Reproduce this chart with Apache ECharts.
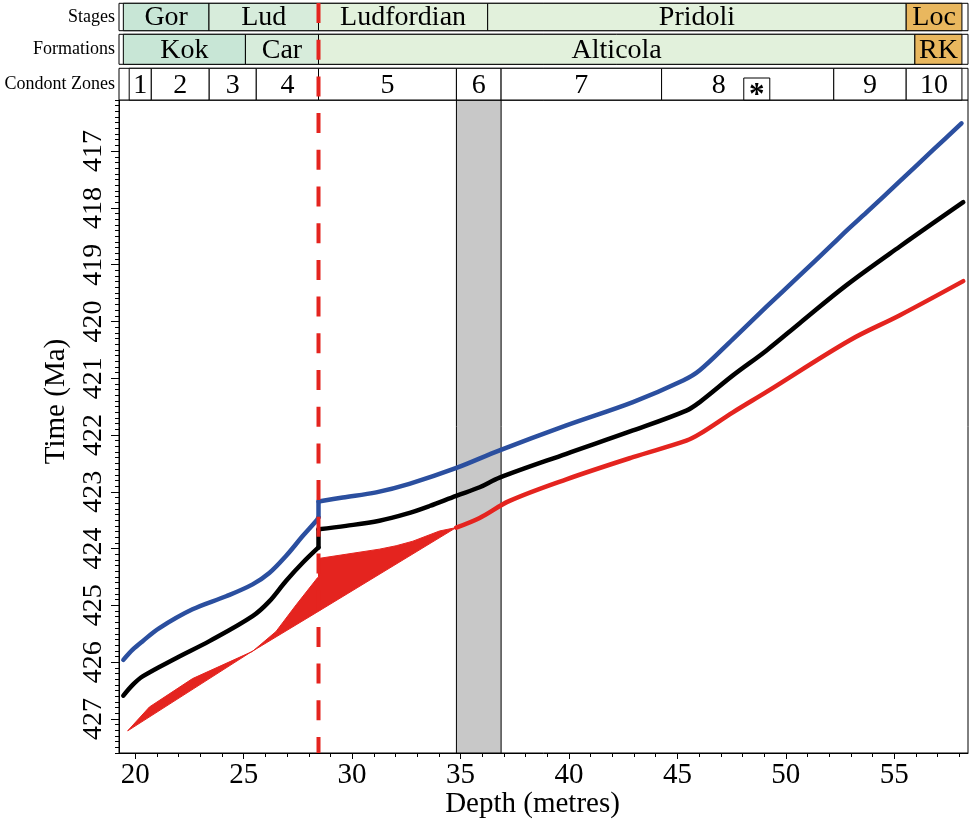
<!DOCTYPE html>
<html><head><meta charset="utf-8">
<script src="https://cdn.jsdelivr.net/npm/echarts@6/dist/echarts.min.js"></script>
<style>html,body{margin:0;padding:0;background:#fff}#chart{width:969px;height:820px}</style>
</head><body><div id="chart"></div>
<script>
// ---------------- data ----------------
const depthRange = [19.25, 58.4];
const timeRange = [416.1, 427.6];
const xMajorTicks = [20, 25, 30, 35, 40, 45, 50, 55];
const xMinorTicks = [20,21,22,23,24,25,26,27,28,29,30,31,32,33,34,35,36,37,38,39,40,41,42,43,44,45,46,47,48,49,50,51,52,53,54,55,56,57,58];
const yMajorTicks = [417, 418, 419, 420, 421, 422, 423, 424, 425, 426, 427];

const stages = [[19.45, 23.4, 'Gor'], [23.4, 28.45, 'Lud'], [28.45, 36.25, 'Ludfordian'], [36.25, 55.55, 'Pridoli'], [55.55, 58.12, 'Loc']];
const formations = [[19.45, 25.08, 'Kok'], [25.08, 28.45, 'Car'], [28.45, 55.95, 'Alticola'], [55.95, 58.12, 'RK']];
const zones = [[19.72, 20.74, '1'], [20.74, 23.41, '2'], [23.41, 25.58, '3'], [25.58, 28.45, '4'], [28.45, 34.81, '5'], [34.81, 36.87, '6'], [36.87, 44.27, '7'], [44.27, 52.21, '8'], [52.21, 55.55, '9'], [55.55, 58.12, '10']];
const markerBox = [48.06, 49.26, '*'];
const boundaryDepth = 28.45;
const grayBand = [34.81, 36.87];

const upperCurve = [[19.45,425.96],[19.88,425.78],[20.34,425.63],[21.11,425.40],[22.64,425.07],[24.19,424.84],[25.41,424.63],[26.18,424.43],[26.95,424.13],[27.72,423.78],[28.37,423.50],[28.45,423.45],[28.45,423.17],[29.57,423.10],[31.11,423.01],[32.64,422.86],[34.81,422.58],[36.80,422.27],[39.88,421.83],[42.95,421.42],[45.26,421.04],[46.03,420.86],[47.56,420.31],[49.11,419.74],[50.64,419.19],[52.18,418.63],[52.80,418.40],[53.72,418.08],[55.26,417.53],[56.79,416.98],[58.10,416.51]];
const middleCurve = [[19.45,426.59],[19.88,426.40],[20.34,426.25],[21.88,425.93],[23.42,425.63],[25.41,425.19],[26.18,424.93],[26.95,424.57],[27.72,424.25],[28.45,423.98],[28.45,423.66],[29.72,423.60],[31.26,423.51],[32.49,423.39],[33.57,423.25],[34.80,423.07],[35.88,422.92],[36.80,422.75],[39.88,422.33],[42.95,421.92],[45.41,421.57],[46.03,421.42],[47.56,420.95],[49.11,420.51],[50.64,420.03],[52.80,419.36],[55.26,418.68],[58.18,417.90]];
const lowerCurve = [[34.80,423.63],[35.88,423.46],[37.26,423.16],[39.88,422.78],[42.95,422.39],[45.41,422.10],[46.03,421.98],[47.56,421.60],[49.11,421.24],[52.95,420.33],[55.26,419.89],[58.18,419.29]];
const fanUpper = [[19.65,427.21],[20.65,426.79],[22.64,426.29],[25.41,425.81],[26.49,425.46],[27.42,424.99],[28.41,424.51],[28.45,424.51],[28.45,424.17],[28.52,424.17],[29.72,424.10],[31.26,424.01],[32.03,423.95],[32.80,423.87],[34.03,423.69],[34.80,423.63]];
const fanLower = [[19.65,427.21],[25.26,425.84],[28.34,425.13],[34.80,423.63]];

// ---------------- style ----------------
const FONT = 'Liberation Serif';
const boxColors = {Gor:'#c8e6d6', Kok:'#c8e6d6', Lud:'#d7ecdb', Car:'#d7ecdb', Ludfordian:'#e2f1dc', Pridoli:'#e2f1dc', Alticola:'#e2f1dc', Loc:'#e9b75e', RK:'#e9b75e'};
const zoneLabelShift = {'8': -29};
const BLUE = '#2b4f9f', RED = '#e4241f';
const yMinorTicks = [];
for (let i = 0; i <= 115; i++) yMinorTicks.push(Math.round((timeRange[0] + i * 0.1) * 10) / 10);

// split a curve where it jumps vertically (two consecutive points with the same depth)
function splitAtJump(curve) {
  for (let i = 0; i < curve.length - 1; i++) {
    if (curve[i][0] === curve[i + 1][0]) {
      return [curve.slice(0, i + 1), curve.slice(i, i + 2), curve.slice(i + 1)];
    }
  }
  return [curve];
}
function lineSeries(curve, color) {
  return splitAtJump(curve).map(function (part) {
    return {type: 'line', xAxisIndex: 1, yAxisIndex: 1, data: part, showSymbol: false, smooth: part.length > 2 ? 0.35 : false,
      lineStyle: {color: color, width: 4.5, cap: 'round', join: 'round'}, z: 4, silent: true};
  });
}

function headerRow(top, bottom, boxes, label, marker) {
  return {
    type: 'custom', coordinateSystem: 'cartesian2d', xAxisIndex: 0, yAxisIndex: 0,
    data: [[depthRange[0], 0]], clip: false, silent: true, z: 2,
    renderItem: function (params, api) {
      const cs = params.coordSys;
      const y0 = cs.y + top, h = bottom - top;
      const ch = [];
      ch.push({type: 'rect', shape: {x: cs.x, y: y0, width: cs.width, height: h}, style: {fill: '#fff', stroke: '#000', lineWidth: 1}});
      boxes.forEach(function (b) {
        const x0 = api.coord([b[0], 0])[0], x1 = api.coord([b[1], 0])[0];
        const shift = (!boxColors[b[2]] && zoneLabelShift[b[2]]) ? zoneLabelShift[b[2]] : 0;
        ch.push({type: 'rect', shape: {x: x0, y: y0, width: x1 - x0, height: h}, style: {fill: boxColors[b[2]] || '#fff', stroke: '#000', lineWidth: 1}});
        ch.push({type: 'text', style: {text: b[2], x: (x0 + x1) / 2 + shift, y: y0 + h / 2 + 1, align: 'center', verticalAlign: 'middle', fontSize: 28, fontFamily: FONT, fill: '#000'}});
      });
      if (marker) {
        const mx0 = api.coord([marker[0], 0])[0], mx1 = api.coord([marker[1], 0])[0];
        ch.push({type: 'rect', shape: {x: mx0, y: y0 + h - 22, width: mx1 - mx0, height: 22}, style: {fill: '#fff', stroke: '#000', lineWidth: 1}});
        ch.push({type: 'text', style: {text: marker[2], x: (mx0 + mx1) / 2, y: y0 + h - 11 + 7, align: 'center', verticalAlign: 'middle', fontSize: 31, fontWeight: 'bold', fontFamily: FONT, fill: '#000'}});
      }
      ch.push({type: 'text', style: {text: label, x: cs.x - 4, y: y0 + h / 2, align: 'right', verticalAlign: 'middle', fontSize: 18, fontFamily: FONT, fill: '#000'}});
      return {type: 'group', children: ch};
    }
  };
}

const chart = echarts.init(document.getElementById('chart'), null, {renderer: 'canvas'});
const axisCommon = {type: 'value', min: depthRange[0], max: depthRange[1], splitLine: {show: false}};
chart.setOption({
  animation: false,
  textStyle: {fontFamily: FONT, color: '#000'},
  grid: [
    {left: 119, right: 1, top: 3, height: 97, show: false, containLabel: false, outerBoundsMode: 'none'},
    {left: 119, right: 1, top: 100, bottom: 67, show: true, borderColor: '#000', borderWidth: 1, backgroundColor: 'transparent', containLabel: false, outerBoundsMode: 'none'}
  ],
  xAxis: [
    Object.assign({}, axisCommon, {gridIndex: 0, show: false}),
    Object.assign({}, axisCommon, {
      gridIndex: 1, position: 'bottom',
      axisLine: {show: true, lineStyle: {color: '#000', width: 1}},
      axisTick: {show: true, customValues: xMajorTicks, length: 6, lineStyle: {color: '#000', width: 1}},
      axisLabel: {customValues: xMajorTicks, fontSize: 29, color: '#000', margin: 8, fontFamily: FONT},
      name: 'Depth (metres)', nameLocation: 'middle', nameGap: 37, nameMoveOverlap: false,
      nameTextStyle: {fontSize: 29, color: '#000', fontFamily: FONT, padding: [0, 22, 0, 0]}
    }),
    Object.assign({}, axisCommon, {
      gridIndex: 1, position: 'bottom',
      axisLine: {show: false},
      axisTick: {show: true, customValues: xMinorTicks, length: 4, lineStyle: {color: '#000', width: 1}},
      axisLabel: {show: false}
    })
  ],
  yAxis: [
    {type: 'value', gridIndex: 0, min: 0, max: 1, show: false},
    {
      type: 'value', gridIndex: 1, min: timeRange[0], max: timeRange[1], inverse: true, position: 'left',
      splitLine: {show: false},
      axisLine: {show: true, lineStyle: {color: '#000', width: 1}},
      axisTick: {show: true, customValues: yMajorTicks, length: 8, lineStyle: {color: '#000', width: 1}},
      axisLabel: {customValues: yMajorTicks, rotate: 90, fontSize: 28, color: '#000', margin: 11, fontFamily: FONT},
      name: 'Time (Ma)', nameLocation: 'middle', nameGap: 48, nameRotate: 90,
      nameTextStyle: {fontSize: 29, color: '#000', fontFamily: FONT, padding: [0, 0, 0, 50]}
    },
    {
      type: 'value', gridIndex: 1, min: timeRange[0], max: timeRange[1], inverse: true, position: 'left',
      splitLine: {show: false}, axisLine: {show: false}, axisLabel: {show: false},
      axisTick: {show: true, customValues: yMinorTicks, length: 4, lineStyle: {color: '#000', width: 1}}
    }
  ],
  series: [
    headerRow(0.3, 27.7, stages, 'Stages'),
    headerRow(31.3, 61.3, formations, 'Formations'),
    headerRow(65.3, 97, zones, 'Condont Zones', markerBox),
    {
      type: 'custom', xAxisIndex: 1, yAxisIndex: 1, data: [[grayBand[0], timeRange[0], grayBand[1], timeRange[1]]], z: 1, silent: true,
      renderItem: function (params, api) {
        const p0 = api.coord([api.value(0), api.value(1)]);
        const p1 = api.coord([api.value(2), api.value(3)]);
        return {type: 'rect', shape: {x: p0[0], y: p0[1], width: p1[0] - p0[0], height: p1[1] - p0[1]}, style: {fill: '#c8c8c8', stroke: '#000', lineWidth: 1}};
      }
    },
    {
      type: 'custom', xAxisIndex: 1, yAxisIndex: 1, data: [[fanUpper[0][0], fanUpper[0][1]]], z: 3, silent: true,
      renderItem: function (params, api) {
        const pts = fanUpper.map(function (p) { return api.coord(p); }).concat(fanLower.slice().reverse().map(function (p) { return api.coord(p); }));
        return {type: 'polygon', shape: {points: pts, smooth: 0}, style: {fill: RED, stroke: RED, lineWidth: 1}};
      }
    }
  ].concat(lineSeries(upperCurve, BLUE), lineSeries(middleCurve, '#000'), lineSeries(lowerCurve, RED), [
    {
      type: 'custom', xAxisIndex: 1, yAxisIndex: 1, data: [[boundaryDepth, timeRange[0]]], z: 6, clip: false, silent: true,
      renderItem: function (params, api) {
        const cs = params.coordSys;
        const x = api.coord([api.value(0), api.value(1)])[0];
        return {type: 'line', shape: {x1: x, y1: cs.y - 97, x2: x, y2: cs.y + cs.height}, style: {stroke: RED, lineWidth: 4, lineDash: [20, 16.7]}};
      }
    }
  ])
});
</script>
</body></html>
